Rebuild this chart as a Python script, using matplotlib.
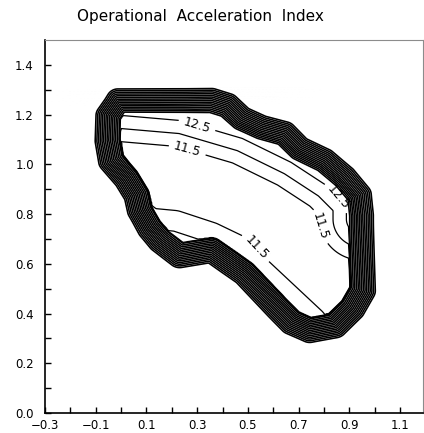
import numpy as np
from matplotlib import pyplot as plt
from matplotlib.path import Path

#: Centre line of the steep rim, traced clockwise from the upper-left corner.
RIM_X = [-0.013, 0.153, 0.357, 0.420, 0.476, 0.554, 0.645, 0.704, 0.802,
         0.881, 0.940, 0.948, 0.948, 0.909, 0.842, 0.743, 0.672, 0.617,
         0.487, 0.357, 0.231, 0.153, 0.113, 0.074, 0.062, 0.023, -0.036,
         -0.052, -0.052]
RIM_Y = [1.257, 1.257, 1.257, 1.237, 1.185, 1.149, 1.124, 1.064, 1.016,
         0.948, 0.876, 0.795, 0.494, 0.422, 0.353, 0.333, 0.365, 0.422,
         0.562, 0.655, 0.635, 0.695, 0.743, 0.815, 0.876, 0.944, 1.016,
         1.096, 1.197]

#: Foot of the high flank (top and right of the valley).
UPPER_X = [-0.15, 0.0, 0.25, 0.50, 0.70, 0.85, 0.948, 0.948]
UPPER_Y = [1.270, 1.257, 1.235, 1.160, 1.060, 0.960, 0.860, 0.780]

#: Foot of the low flank (bottom of the valley).
LOWER_X = [0.72, 0.50, 0.44, 0.338, 0.204, 0.10, 0.04]
LOWER_Y = [0.34, 0.55, 0.62, 0.670, 0.715, 0.725, 0.77]

#: Index at each flank foot and its fall per unit distance into the valley.
UPPER_FOOT, UPPER_FALL = 13.07, 9.5
LOWER_FOOT, LOWER_FALL = 12.10, 6.0

#: Index values on the valley floor and on the rim.
LABELLED_LEVELS = [11.5, 12.5]
PLAIN_LEVELS = [12.0]
RIM_LEVELS = [13.5, 15.5, 17.5, 19.5, 21.5, 23.5, 25.5, 27.5, 29.5, 31.5,
              33.5, 35.5, 37.5, 39.5, 41.5]

#: Label positions of the inner contours (x, y).
LABEL_POS = [(0.30, 1.16), (0.26, 1.055), (0.86, 0.87), (0.78, 0.75),
             (0.51, 0.645)]

X_TICKS = [-0.3, -0.2, -0.1, 0.0, 0.1, 0.2, 0.3, 0.4, 0.5, 0.6, 0.7, 0.8,
           0.9, 1.0, 1.1]
X_LABELS = ["\u22120.3", "", "\u22120.1", "", "0.1", "", "0.3", "", "0.5", "",
            "0.7", "", "0.9", "", "1.1"]
Y_TICKS = [0.0, 0.1, 0.2, 0.3, 0.4, 0.5, 0.6, 0.7, 0.8, 0.9, 1.0, 1.1, 1.2,
           1.3, 1.4]
Y_LABELS = ["0.0", "", "0.2", "", "0.4", "", "0.6", "", "0.8", "", "1.0", "",
            "1.2", "", "1.4"]


def polyline_distance(pts, px, py):
    """Shortest distance of each point to an open polyline."""
    best = np.full(len(pts), np.inf)
    for i in range(len(px) - 1):
        a = np.array([px[i], py[i]])
        b = np.array([px[i + 1], py[i + 1]])
        ab = b - a
        t = np.clip(((pts - a) @ ab) / (ab @ ab), 0.0, 1.0)
        proj = a + t[:, None] * ab
        best = np.minimum(best, np.hypot(*(pts - proj).T))
    return best


def index_field(xx, yy):
    pts = np.stack([xx.ravel(), yy.ravel()], axis=1)

    # signed distance to the closed rim, positive inside
    cx = RIM_X + RIM_X[:1]
    cy = RIM_Y + RIM_Y[:1]
    d = polyline_distance(pts, cx, cy)
    inside = Path(np.stack([cx, cy], axis=1)).contains_points(pts)
    d = np.where(inside, d, -d)

    du = polyline_distance(pts, UPPER_X, UPPER_Y)
    dl = polyline_distance(pts, LOWER_X, LOWER_Y)
    valley = np.maximum(UPPER_FOOT - UPPER_FALL * du,
                        LOWER_FOOT - LOWER_FALL * dl)
    wall = 300.0 * np.clip(0.05 - d, 0.0, None)
    field = np.minimum(valley + wall, 42.5)
    return field.reshape(xx.shape)


gx = np.linspace(-0.3, 1.2, 500)
gy = np.linspace(0.0, 1.5, 500)
xx, yy = np.meshgrid(gx, gy)
zz = index_field(xx, yy)

fig = plt.figure(figsize=(4.24, 4.33), dpi=100)
ax = fig.add_axes([45 / 424, 20 / 433, 378 / 424, 373 / 433])

ax.contour(xx, yy, zz, levels=RIM_LEVELS, colors="black", linewidths=1.15)
ax.contour(xx, yy, zz, levels=PLAIN_LEVELS, colors="black", linewidths=0.9)
cs = ax.contour(xx, yy, zz, levels=LABELLED_LEVELS, colors="black",
                linewidths=0.9)
ax.clabel(cs, fmt="%.1f", fontsize=9, inline=True, manual=LABEL_POS)

ax.set_xlim(-0.3, 1.19)
ax.set_ylim(0.0, 1.5)
ax.set_xticks(X_TICKS, X_LABELS)
ax.set_yticks(Y_TICKS, Y_LABELS)
ax.tick_params(direction="in", length=4, width=1, labelsize=8.5,
               top=False, right=False)
ax.tick_params(axis="y", pad=8)
ax.tick_params(axis="x", pad=4)
for side in ("top", "right"):
    ax.spines[side].set_color("0.55")
for side in ("left", "bottom"):
    ax.spines[side].set_linewidth(1.2)

fig.text(200 / 424, 1 - 16 / 433, "Operational  Acceleration  Index",
         ha="center", va="center", fontsize=11)

fig.savefig("out.png", dpi=100)
